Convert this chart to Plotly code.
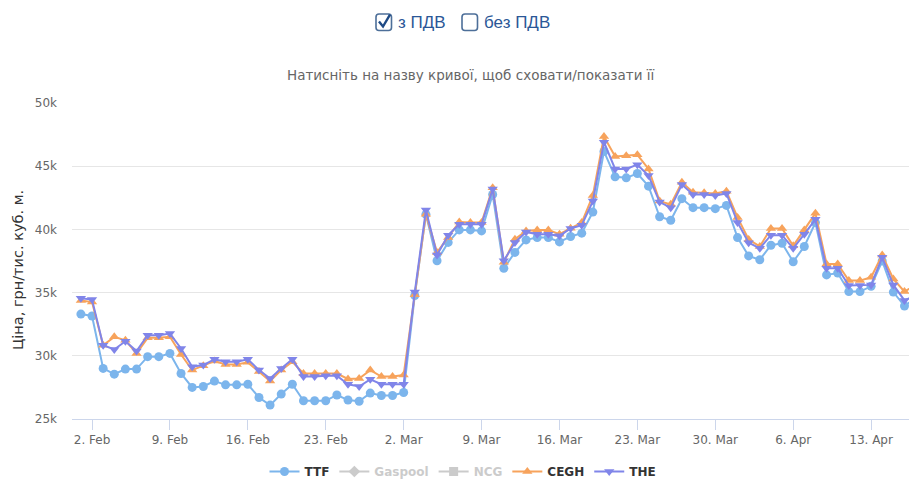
import pandas as pd
import plotly.graph_objects as go

dates = pd.date_range("2026-02-01", periods=76, freq="D")

ttf = [33.3, 33.15, 29.0, 28.55, 28.95, 28.95, 29.93, 29.93, 30.19, 28.6,
       27.5, 27.57, 28.0, 27.7, 27.7, 27.75, 26.7, 26.1, 26.97, 27.75,
       26.44, 26.44, 26.44, 26.9, 26.5, 26.4, 27.05, 26.86, 26.86, 27.1,
       34.77, 41.19, 37.52, 38.97, 39.96, 39.96, 39.88, 42.76, 36.92, 38.18,
       39.17, 39.36, 39.36, 39.01, 39.44, 39.7, 41.37, 46.17, 44.16, 44.08,
       44.42, 43.42, 41.0, 40.72, 42.43, 41.72, 41.72, 41.64, 41.9, 39.35,
       37.9, 37.6, 38.75, 38.9, 37.44, 38.65, 40.54, 36.4, 36.55, 35.08,
       35.08, 35.5, 37.5, 35.04, 33.94, 34.57]

the = [34.55, 34.45, 30.84, 30.5, 31.15, 30.37, 31.63, 31.63, 31.76, 30.58,
       29.14, 29.27, 29.72, 29.53, 29.53, 29.72, 28.87, 28.2, 29.0, 29.72,
       28.36, 28.36, 28.43, 28.43, 27.75, 27.57, 28.14, 27.75, 27.75, 27.75,
       35.04, 41.53, 37.97, 39.54, 40.4, 40.4, 40.4, 43.2, 37.52, 38.97,
       39.8, 39.62, 39.62, 39.49, 40.07, 40.33, 42.24, 46.9, 44.78, 44.78,
       45.12, 44.26, 42.16, 41.72, 43.55, 42.76, 42.76, 42.68, 42.84, 40.55,
       38.95, 38.5, 39.54, 39.54, 38.5, 39.62, 40.8, 36.92, 36.92, 35.56,
       35.56, 35.61, 37.79, 35.61, 34.38, 34.77]

cegh = [34.38, 34.25, 30.84, 31.5, 31.23, 30.19, 31.42, 31.42, 31.5, 30.1,
        28.87, 29.22, 29.58, 29.32, 29.32, 29.48, 28.75, 28.0, 28.87, 29.53,
        28.6, 28.6, 28.6, 28.6, 28.17, 28.2, 28.87, 28.36, 28.36, 28.48,
        34.83, 41.19, 38.18, 39.36, 40.59, 40.54, 40.54, 43.29, 37.4, 39.23,
        39.88, 39.96, 39.96, 39.62, 40.1, 40.54, 42.68, 47.35, 45.77, 45.83,
        45.9, 44.78, 42.24, 41.98, 43.73, 42.94, 42.9, 42.84, 43.02, 40.95,
        39.2, 38.65, 40.07, 40.07, 38.7, 39.96, 41.27, 37.26, 37.26, 35.95,
        35.95, 36.21, 37.97, 36.08, 35.08, 35.61]

# hidden series (shown greyed in the legend only; no values visible)
gaspool = [None] * len(dates)
ncg = [None] * len(dates)

series = [
    ("TTF", ttf, "#7cb5ec", "circle", True),
    ("Gaspool", gaspool, "#999999", "diamond", "legendonly"),
    ("NCG", ncg, "#999999", "square", "legendonly"),
    ("CEGH", cegh, "#f7a35c", "triangle-up", True),
    ("THE", the, "#8085e9", "triangle-down", True),
]

FONT = "DejaVu Sans, Verdana, sans-serif"

fig = go.Figure()
for name, vals, color, sym, vis in series:
    label = name if vis is True else f"<span style='color:#999999'>{name}</span>"
    fig.add_trace(go.Scatter(
        x=dates, y=[None if v is None else v * 1000 for v in vals], name=label,
        mode="lines+markers", visible=vis,
        line=dict(color=color, width=2),
        marker=dict(symbol=sym, size=9, color=color),
    ))

# page body has an 8px margin: figure pixel = reference pixel - 8
OFF = 8
W, H = 917 - OFF, 486 - OFF
PL, PR, PT, PB = 72, 917, 103, 421          # plot area in reference pixels
L, R, T, B = PL - OFF, 0, PT - OFF, H - (PB - OFF)

def px(x):
    return (x - PL) / (PR - PL)

def py(y):
    return (PB - y) / (PB - PT)

def rounded_box(x0, y0, x1, y1, r):
    X0, X1 = px(x0), px(x1)
    Y0, Y1 = py(y0), py(y1)
    rx = r / (PR - PL)
    ry = r / (PB - PT)
    return (f"M {X0+rx},{Y0} L {X1-rx},{Y0} Q {X1},{Y0} {X1},{Y0-ry} "
            f"L {X1},{Y1+ry} Q {X1},{Y1} {X1-rx},{Y1} L {X0+rx},{Y1} "
            f"Q {X0},{Y1} {X0},{Y1+ry} L {X0},{Y0-ry} Q {X0},{Y0} {X0+rx},{Y0} Z")

shapes = [
    dict(type="path", xref="paper", yref="paper", path=rounded_box(376, 13.5, 391.5, 30, 3),
         line=dict(color="#4d6f99", width=1.6), fillcolor="white"),
    dict(type="path", xref="paper", yref="paper",
         path=f"M {px(379)},{py(21)} L {px(383)},{py(26)} L {px(390)},{py(14)}",
         line=dict(color="#1e4a85", width=2.4)),
    dict(type="path", xref="paper", yref="paper", path=rounded_box(462, 13.5, 477.5, 30, 3),
         line=dict(color="#4d6f99", width=1.6), fillcolor="white"),
]

annotations = [
    dict(text="з ПДВ", x=px(396), y=py(21.5), xref="paper", yref="paper",
         xanchor="left", yanchor="middle", showarrow=False,
         font=dict(family="Liberation Sans, Arial, sans-serif", size=17, color="#2b5797")),
    dict(text="без ПДВ", x=px(482), y=py(21.5), xref="paper", yref="paper",
         xanchor="left", yanchor="middle", showarrow=False,
         font=dict(family="Liberation Sans, Arial, sans-serif", size=17, color="#2b5797")),
    dict(text="Натисніть на назву кривої, щоб сховати/показати її", x=px(470), y=py(75),
         xref="paper", yref="paper", xanchor="center", yanchor="middle", showarrow=False,
         font=dict(family=FONT, size=13.5, color="#666666")),
    dict(text="Ціна, грн/тис. куб. м.", x=px(18), y=py(271), textangle=-90,
         xref="paper", yref="paper", xanchor="center", yanchor="middle", showarrow=False,
         borderpad=0,
         font=dict(family=FONT, size=14.5, color="#333333")),
]

fig.update_layout(
    width=W, height=H,
    margin=dict(l=L, r=R, t=T, b=B),
    paper_bgcolor="white", plot_bgcolor="white",
    font=dict(family=FONT, size=12, color="#666666"),
    showlegend=True,
    legend=dict(orientation="h", x=px(463), xanchor="center", y=py(474), yanchor="middle",
                font=dict(family=FONT, size=12, color="#333333", weight="bold"),
                itemwidth=30),
    shapes=shapes, annotations=annotations,
    hovermode="x",
)

fig.update_xaxes(
    type="date",
    range=["2026-01-31 04:50", "2026-04-17 03:00"],
    tick0="2026-02-02", dtick=7 * 24 * 3600 * 1000,
    tickformat="%-d. %b",
    showgrid=False, showline=True, linecolor="#ccd6eb", linewidth=1,
    ticks="outside", ticklen=10, tickcolor="#ccd6eb",
    tickfont=dict(family=FONT, size=12, color="#666666"),
    zeroline=False,
)

fig.update_yaxes(
    range=[25000, 50000], dtick=5000, tickformat="~s",
    showgrid=True, gridcolor="#e6e6e6", gridwidth=1,
    zeroline=False, showline=False,
    ticklabelstandoff=14,
    tickfont=dict(family=FONT, size=12, color="#666666"),
)

fig.write_html("out.html")
